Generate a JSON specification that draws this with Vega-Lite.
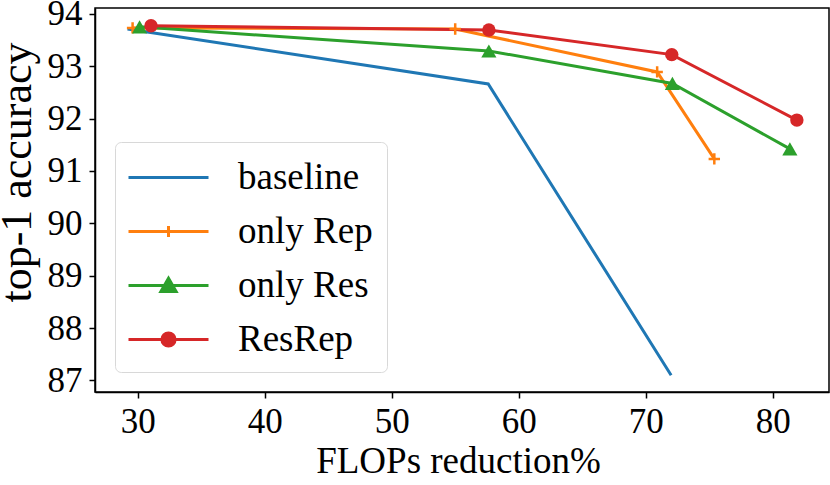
{
  "$schema": "https://vega.github.io/schema/vega-lite/v6.json",
  "width": 734,
  "height": 384,
  "autosize": {"type": "none"},
  "padding": {"left": 95, "top": 8, "right": 1, "bottom": 93},
  "background": "white",
  "view": {"stroke": "black", "strokeWidth": 1.5, "fill": "white"},
  "config": {
    "font": "Times New Roman, Liberation Serif, serif",
    "axis": {
      "labelFont": "Times New Roman, Liberation Serif, serif",
      "titleFont": "Times New Roman, Liberation Serif, serif",
      "labelColor": "black",
      "titleColor": "black",
      "titleFontWeight": "normal",
      "domainColor": "black",
      "domainWidth": 1.5,
      "tickColor": "black",
      "tickWidth": 1.5,
      "tickSize": 6,
      "grid": false
    },
    "legend": {
      "labelFont": "Times New Roman, Liberation Serif, serif"
    }
  },
  "data": {
    "values": [
      {"series": "baseline", "flops": 29.2, "acc": 93.71},
      {"series": "baseline", "flops": 57.6, "acc": 92.66},
      {"series": "baseline", "flops": 72.0, "acc": 87.1},
      {"series": "only Rep", "flops": 29.6, "acc": 93.73},
      {"series": "only Rep", "flops": 55.0, "acc": 93.71},
      {"series": "only Rep", "flops": 70.9, "acc": 92.89},
      {"series": "only Rep", "flops": 75.4, "acc": 91.23},
      {"series": "only Res", "flops": 30.15, "acc": 93.75},
      {"series": "only Res", "flops": 57.65, "acc": 93.29},
      {"series": "only Res", "flops": 72.1, "acc": 92.67},
      {"series": "only Res", "flops": 81.35, "acc": 91.42},
      {"series": "ResRep", "flops": 31.05, "acc": 93.77},
      {"series": "ResRep", "flops": 57.65, "acc": 93.69},
      {"series": "ResRep", "flops": 72.05, "acc": 93.22},
      {"series": "ResRep", "flops": 81.9, "acc": 91.97}
    ]
  },
  "encoding": {
    "x": {
      "field": "flops",
      "type": "quantitative",
      "scale": {"domain": [26.64, 84.43], "nice": false, "zero": false},
      "axis": {
        "title": "FLOPs reduction%",
        "values": [30, 40, 50, 60, 70, 80],
        "labelFontSize": 35,
        "labelPadding": 6,
        "titleFontSize": 37,
        "titleBaseline": "alphabetic",
        "titleY": 80,
        "titleX": 363
      }
    },
    "y": {
      "field": "acc",
      "type": "quantitative",
      "scale": {"domain": [86.78, 94.11], "nice": false, "zero": false},
      "axis": {
        "title": "top-1 accuracy",
        "values": [87, 88, 89, 90, 91, 92, 93, 94],
        "labelFontSize": 35,
        "labelPadding": 7,
        "titleFontSize": 44,
        "titleBaseline": "alphabetic",
        "titleAngle": -90,
        "titleX": -65,
        "titleY": 164
      }
    },
    "color": {
      "field": "series",
      "type": "nominal",
      "scale": {
        "domain": ["baseline", "only Rep", "only Res", "ResRep"],
        "range": ["#1f77b4", "#ff7f0e", "#2ca02c", "#d62728"]
      },
      "legend": null
    }
  },
  "layer": [
    {
      "mark": {"type": "line", "strokeWidth": 3},
      "encoding": {
        "color": {
          "field": "series",
          "type": "nominal",
          "scale": {
            "domain": ["baseline", "only Rep", "only Res", "ResRep"],
            "range": ["#1f77b4", "#ff7f0e", "#2ca02c", "#d62728"]
          },
          "legend": {
            "title": null,
            "orient": "bottom-left",
            "offset": 20,
            "labelFont": "Times New Roman, Liberation Serif, serif",
            "labelFontSize": 37,
            "labelColor": "black",
            "symbolSize": 1600,
            "symbolStrokeWidth": 3,
            "symbolOffset": 18,
            "labelOffset": 48,
            "rowPadding": 14,
            "padding": 14,
            "strokeColor": "#d8d8d8",
            "fillColor": "white",
            "cornerRadius": 6,
            "encode": {
              "symbols": {
                "update": {
                  "shape": {
                    "signal": "datum.value == 'baseline' ? 'M-2,0H2' : datum.value == 'only Rep' ? 'M-2,0H2M0,-0.28V0.28' : datum.value == 'only Res' ? 'M-2,0H2M0,-0.36L0.38,0.3L-0.38,0.3Z' : 'M-2,0H2M-0.33,0A0.33,0.33,0,1,1,0.33,0A0.33,0.33,0,1,1,-0.33,0Z'"
                  },
                  "fill": {"scale": "color", "field": "value"},
                  "stroke": {"scale": "color", "field": "value"},
                  "strokeWidth": {"value": 3},
                  "opacity": {"value": 1}
                }
              }
            }
          }
        }
      }
    },
    {
      "transform": [{"filter": "datum.series == 'only Rep'"}],
      "mark": {"type": "point", "shape": "M-1,0H1M0,-1V1", "size": 130, "filled": false, "strokeWidth": 2.5, "opacity": 1}
    },
    {
      "transform": [{"filter": "datum.series == 'only Res'"}],
      "mark": {"type": "point", "shape": "triangle-up", "size": 230, "filled": true, "opacity": 1}
    },
    {
      "transform": [{"filter": "datum.series == 'ResRep'"}],
      "mark": {"type": "point", "shape": "circle", "size": 180, "filled": true, "opacity": 1}
    }
  ]
}
